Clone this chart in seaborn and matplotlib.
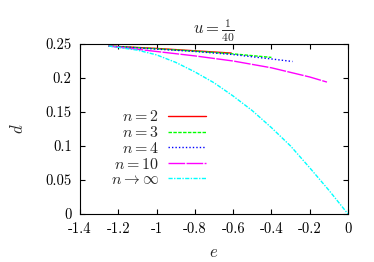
import matplotlib
matplotlib.use('Agg')
import matplotlib.pyplot as plt
from matplotlib.ticker import FuncFormatter, MultipleLocator
import pandas as pd
import seaborn as sns

# values
e_n2 = [-1.25, -1.0, -0.8, -0.61]
d_n2 = [0.247, 0.2435, 0.240, 0.2367]

e_n3 = [-1.25, -1.0, -0.8, -0.6, -0.4]
d_n3 = [0.247, 0.243, 0.2395, 0.2355, 0.2303]

e_n4 = [-1.25, -1.0, -0.8, -0.6, -0.4, -0.29]
d_n4 = [0.247, 0.2425, 0.239, 0.2345, 0.228, 0.2243]

e_n10 = [-1.25, -1.0, -0.8, -0.6, -0.4, -0.2, -0.11]
d_n10 = [0.247, 0.239, 0.2325, 0.225, 0.215, 0.2015, 0.194]

e_inf = [-1.25, -1.2, -1.1, -1.0, -0.9, -0.8, -0.7, -0.6, -0.5, -0.4, -0.3, -0.2, -0.1, 0.0]
d_inf = [0.247, 0.245, 0.241, 0.234, 0.223, 0.209, 0.193, 0.1735, 0.152, 0.127, 0.100, 0.068, 0.035, 0.0]

labels = [r'$n = 2$', r'$n = 3$', r'$n = 4$', r'$n = 10$', r'$n \to \infty$']
colors = ['#ff0000', '#00ff00', '#0000ff', '#ff00ff', '#00ffff']
dashes = ['', (2.5, 1), (1, 1.5), (12, 1), (3, 1, 1, 1)]

frames = []
for lab, e, d in zip(labels, [e_n2, e_n3, e_n4, e_n10, e_inf],
                     [d_n2, d_n3, d_n4, d_n10, d_inf]):
    frames.append(pd.DataFrame({'e': e, 'd': d, 'n': lab}))
df = pd.concat(frames, ignore_index=True)

sns.set_style('ticks')
plt.rcParams['font.family'] = ['cmr10', 'DejaVu Serif']
plt.rcParams['mathtext.fontset'] = 'cm'
plt.rcParams['axes.unicode_minus'] = False
plt.rcParams['axes.formatter.use_mathtext'] = False

fig = plt.figure(figsize=(3.74, 2.62), dpi=100)
ax = fig.add_axes([80 / 374, 48 / 262, 268 / 374, 170 / 262])

sns.lineplot(data=df, x='e', y='d', hue='n', style='n',
             palette=dict(zip(labels, colors)),
             dashes=dict(zip(labels, dashes)),
             hue_order=labels, style_order=labels,
             estimator=None, sort=False, linewidth=1.0, ax=ax)

ax.set_xlim(-1.4, 0)
ax.set_ylim(0, 0.25)
ax.xaxis.set_major_locator(MultipleLocator(0.2))
ax.yaxis.set_major_locator(MultipleLocator(0.05))
ax.xaxis.set_major_formatter(FuncFormatter(lambda v, p: '%g' % round(v, 2)))
ax.yaxis.set_major_formatter(FuncFormatter(lambda v, p: '%g' % round(v, 2)))
ax.tick_params(direction='in', length=3.5, width=0.8, top=True, right=True,
               labelsize=10.5, colors='black', pad=6)
for sp in ax.spines.values():
    sp.set_linewidth(0.8)
    sp.set_color('black')

ax.set_xlabel(r'$e$', fontsize=12, labelpad=6)
ax.set_ylabel(r'$d$', fontsize=12, labelpad=14)
ax.set_title(r'$u = \frac{1}{40}$', fontsize=12, pad=7)

handles, labs = ax.get_legend_handles_labels()
ax.legend(handles, labs, loc='center', bbox_to_anchor=(0.292, 0.388),
          frameon=False, markerfirst=False, fontsize=11.5, handlelength=2.4,
          handletextpad=0.55, labelspacing=0.05)

fig.savefig('out.png', dpi=100)
